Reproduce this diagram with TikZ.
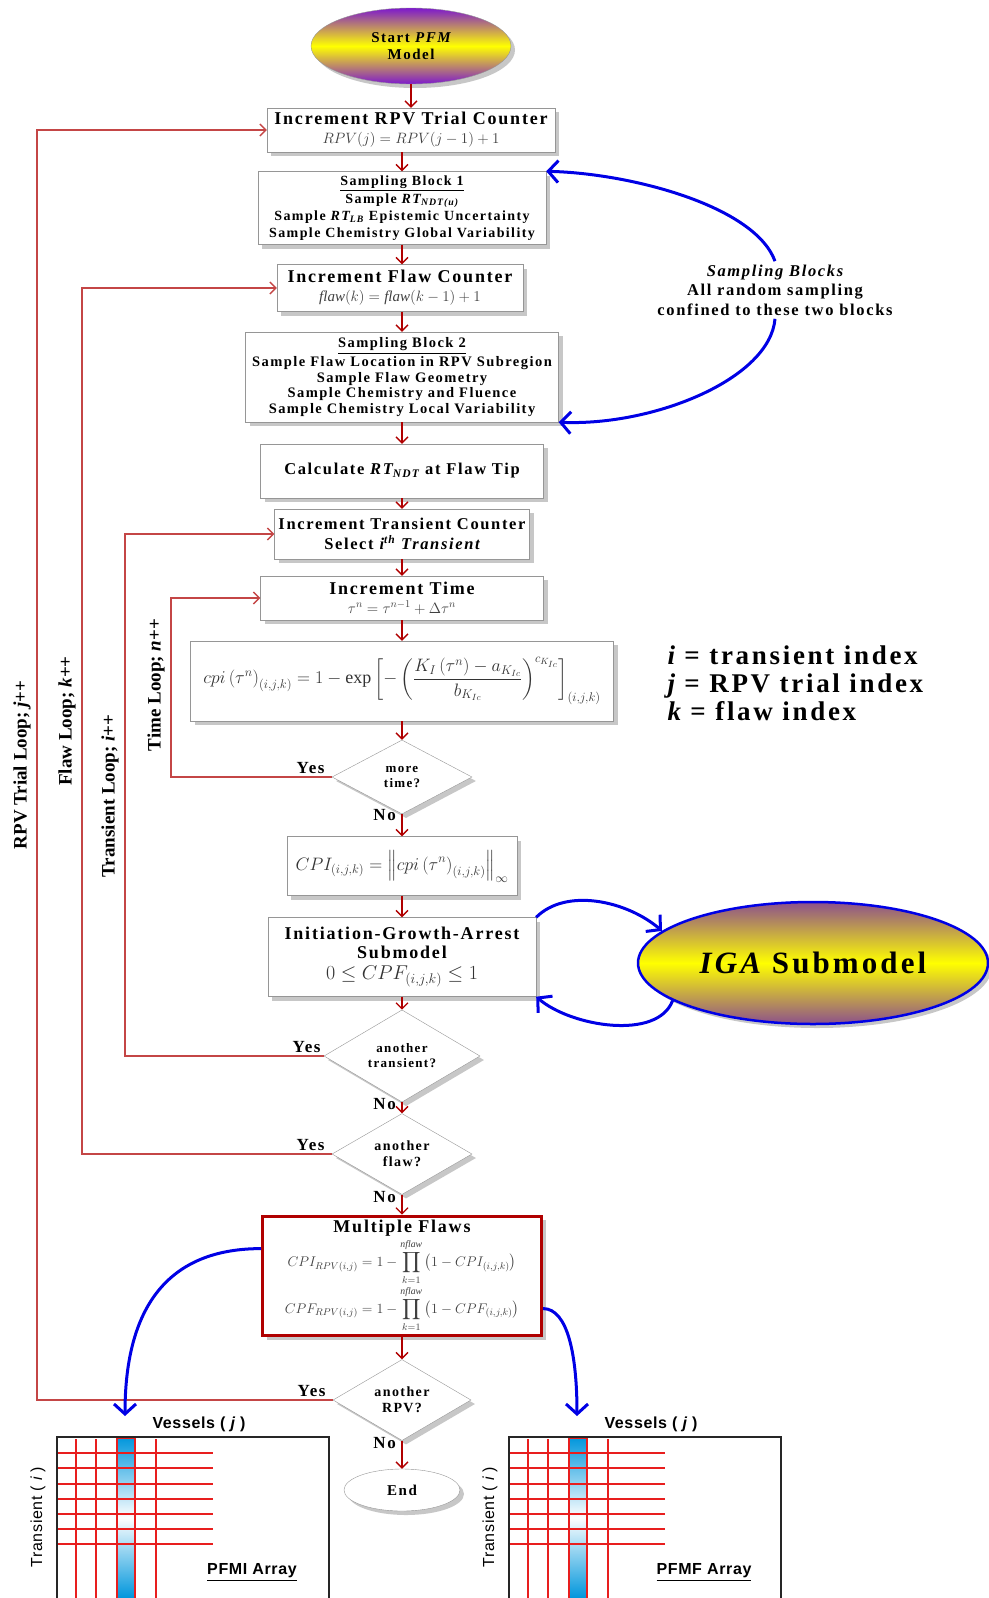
\RequirePackage{fix-cm}
\documentclass[tikz,border=0pt]{standalone}
\usepackage{exscale}
\usepackage{fontspec}
\setmainfont{Liberation Serif}[LetterSpace=10]
\setsansfont{Liberation Sans}[LetterSpace=4]
\newfontfamily\loopfont{Liberation Serif}
\usetikzlibrary{shapes.geometric,arrows.meta,shadows,positioning}

\definecolor{flowred}{RGB}{176,0,0}
\definecolor{loopred}{RGB}{196,70,70}
\definecolor{gridred}{RGB}{232,30,30}
\definecolor{cellblue}{RGB}{0,150,220}
\definecolor{startpurple}{RGB}{125,25,205}
\definecolor{igamauve}{RGB}{140,80,140}
\definecolor{boxgray}{RGB}{150,150,150}

\newcommand{\titlefont}{\fontsize{18}{19}\selectfont\bfseries}
\newcommand{\listfont}{\fontsize{14.5}{15.5}\selectfont\bfseries}
\newcommand{\eqfont}{\fontsize{15}{18}\selectfont\color{black!75}}
\newcommand{\askfont}{\fontsize{13}{15}\selectfont\bfseries}

\tikzset{
  grayshadow/.style={drop shadow={fill=black!22,opacity=1,shadow xshift=4pt,shadow yshift=-4pt}},
  block/.style={draw=boxgray, fill=white, grayshadow, align=center, inner sep=2pt, font=\titlefont},
  decision/.style={diamond, draw=boxgray, fill=white, grayshadow, align=center, inner sep=0pt, font=\askfont},
  flow/.style={draw=flowred, line width=1.2pt, -{Straight Barb[length=6pt,width=12pt,line width=1.3pt]}},
  loopline/.style={draw=loopred, line width=1.2pt, -{Straight Barb[length=6pt,width=12pt,line width=1.3pt]}},
  bluearc/.style={draw=blue!90!black, line width=3pt, -{Straight Barb[length=10pt,width=22pt,line width=3pt]}},
  answer/.style={font=\fontsize{17}{17}\selectfont\bfseries, inner sep=1pt},
  looplabel/.style={rotate=90, font=\loopfont\fontsize{19}{19}\selectfont\bfseries},
}

\begin{document}
\begin{tikzpicture}[x=1pt,y=-1pt]
\useasboundingbox (0,0) rectangle (988,1598);

% main flow
\node[ellipse, draw=boxgray, grayshadow, top color=startpurple, bottom color=startpurple, middle color=yellow,
      minimum width=200, minimum height=76, align=center, font=\fontsize{15}{17}\selectfont\bfseries] (start) at (411,46) {Start {\itshape PFM}\\Model};
\node[block, minimum width=288, minimum height=44] (rpv) at (411,130) {Increment RPV Trial Counter\\{\eqfont $RPV(j)=RPV(j-1)+1$}};
\node[block, minimum width=288, minimum height=73, font=\fontsize{14}{17}\selectfont\bfseries] (samp1) at (402,208) {\underline{Sampling Block 1}\\[1pt]Sample {\itshape RT\textsubscript{NDT(u)}}\\Sample {\itshape RT\textsubscript{LB}} Epistemic Uncertainty\\Sample Chemistry Global Variability};
\node[block, minimum width=246, minimum height=47] (flaw) at (400,288) {Increment Flaw Counter\\{\eqfont $\mathit{flaw}(k)=\mathit{flaw}(k-1)+1$}};
\node[block, minimum width=313, minimum height=90, font=\listfont] (samp2) at (402,377) {\underline{Sampling Block 2}\\[2pt]Sample Flaw Location in RPV Subregion\\Sample Flaw Geometry\\Sample Chemistry and Fluence\\Sample Chemistry Local Variability};
\node[block, minimum width=283, minimum height=54, font=\fontsize{16.5}{18}\selectfont\bfseries] (rtndt) at (402,471) {Calculate {\itshape RT\textsubscript{NDT}} at Flaw Tip};
\node[block, minimum width=255, minimum height=50, font=\fontsize{16.5}{20}\selectfont\bfseries] (trans) at (402,534) {Increment Transient Counter\\Select {\itshape i}\textsuperscript{\itshape th} {\itshape Transient}};
\node[block, minimum width=283, minimum height=44] (time) at (402,598) {Increment Time\\{\eqfont $\tau^n=\tau^{n-1}+\Delta\tau^n$}};
\node[block, minimum width=423, minimum height=80, font=\fontsize{18}{20}\selectfont\color{black!80}] (cpi) at (402,681) {$\displaystyle cpi\left(\tau^n\right)_{(i,j,k)}=1-\exp\left[-\left(\frac{K_I\left(\tau^n\right)-a_{K_{Ic}}}{b_{K_{Ic}}}\right)^{c_{K_{Ic}}}\right]_{(i,j,k)}$};
\node[decision, minimum width=140, minimum height=74] (moretime) at (402,777) {more\\time?};
\node[block, minimum width=230, minimum height=59, font=\fontsize{18}{20}\selectfont\color{black!80}] (cpimax) at (402,866) {$\displaystyle CPI_{(i,j,k)}=\Bigl\|cpi\left(\tau^n\right)_{(i,j,k)}\Bigr\|_\infty$};
\node[block, minimum width=268, minimum height=79] (iga) at (402,957) {Initiation-Growth-Arrest\\Submodel\\[2pt]{\fontsize{20}{21}\selectfont\mdseries\color{black!80}$0\le CPF_{(i,j,k)}\le 1$}};
\node[decision, minimum width=156, minimum height=70] (anotrans) at (402,1056) {another\\transient?};
\node[decision, minimum width=140, minimum height=72, font=\fontsize{14}{16}\selectfont\bfseries] (anoflaw) at (402,1154) {another\\flaw?};
\node[block, draw=flowred, line width=3pt, minimum width=279, minimum height=116, inner sep=4pt] (multi) at (402,1276) {Multiple Flaws\\[2pt]{\fontsize{14}{14}\selectfont\color{black!75}$\displaystyle CPI_{RPV(i,j)}=1-\prod_{k=1}^{\mathit{nflaw}}\left(1-CPI_{(i,j,k)}\right)$}\\[0pt]{\fontsize{14}{14}\selectfont\color{black!75}$\displaystyle CPF_{RPV(i,j)}=1-\prod_{k=1}^{\mathit{nflaw}}\left(1-CPF_{(i,j,k)}\right)$}};
\node[decision, minimum width=138, minimum height=72, font=\fontsize{14}{16}\selectfont\bfseries] (anorpv) at (402,1400) {another\\RPV?};
\node[ellipse, draw=boxgray, fill=white, grayshadow, minimum width=116, minimum height=42, font=\fontsize{15}{17}\selectfont\bfseries] (end) at (402,1490) {End};

\draw[flow] (start) -- (rpv);
\draw[flow] (samp1.north |- rpv.south) -- (samp1.north);
\draw[flow] (samp1.south) -- (samp1.south |- flaw.north);
\draw[flow] (samp2.north |- flaw.south) -- (samp2.north);
\draw[flow] (samp2) -- (rtndt);
\draw[flow] (rtndt) -- (trans);
\draw[flow] (trans) -- (time);
\draw[flow] (time) -- (cpi);
\draw[flow] (cpi) -- (moretime);
\draw[flow] (moretime) -- (cpimax);
\draw[flow] (cpimax) -- (iga);
\draw[flow] (iga) -- (anotrans);
\draw[flow] (anotrans) -- (anoflaw);
\draw[flow] (anoflaw) -- (multi);
\draw[flow] (multi) -- (anorpv);
\draw[flow] (anorpv) -- (end);

% loops
\coordinate (railR) at (37,0);
\coordinate (railF) at (82,0);
\coordinate (railT) at (125,0);
\coordinate (railN) at (171,0);
\draw[loopline] (anorpv.west) -- (anorpv.west -| railR) |- (rpv.west);
\draw[loopline] (anoflaw.west) -- (anoflaw.west -| railF) |- (flaw.west);
\draw[loopline] (anotrans.west) -- (anotrans.west -| railT) |- (trans.west);
\draw[loopline] (moretime.west) -- (moretime.west -| railN) |- (time.west);
\node[looplabel] (lblR) at (22,765) {RPV Trial Loop; {\itshape j}++};
\node[looplabel] (lblF) at (67,721) {Flaw Loop; {\itshape k}++};
\node[looplabel] (lblT) at (110,796) {Transient Loop; {\itshape i}++};
\node[looplabel] (lblN) at (156,685) {Time Loop; {\itshape n}++};

% yes / no
\node[answer, anchor=south east, xshift=-6pt, yshift=2pt] (yesN) at (moretime.west) {Yes};
\node[answer, anchor=north east, xshift=-5pt, yshift=6pt] (noN) at (moretime.south) {No};
\node[answer, anchor=south east, xshift=-2pt, yshift=2pt] (yesT) at (anotrans.west) {Yes};
\node[answer, anchor=north east, xshift=-5pt, yshift=5pt] (noT) at (anotrans.south) {No};
\node[answer, anchor=south east, xshift=-6pt, yshift=2pt] (yesF) at (anoflaw.west) {Yes};
\node[answer, anchor=north east, xshift=-5pt, yshift=5pt] (noF) at (anoflaw.south) {No};
\node[answer, anchor=south east, xshift=-6pt, yshift=2pt] (yesR) at (anorpv.west) {Yes};
\node[answer, anchor=north east, xshift=-5pt, yshift=5pt] (noR) at (anorpv.south) {No};

% sampling note
\node[align=center, font=\fontsize{16.5}{19.5}\selectfont\bfseries] (sbnote) at (775,290) {{\itshape Sampling Blocks}\\All random sampling\\confined to these two blocks};
\draw[bluearc] (sbnote.north) .. controls +(-20,-55) and +(85,2) .. (samp1.north east);
\draw[bluearc] (sbnote.south) .. controls +(-5,60) and +(95,4) .. (samp2.south east);

% index legend
\node[anchor=west, align=left, font=\fontsize{27}{28}\selectfont\bfseries] (legend) at (664,683) {{\itshape i} = transient index\\{\itshape j} = RPV trial index\\{\itshape k} = flaw index};

% IGA submodel
\node[ellipse, draw=blue!90!black, line width=2.5pt, grayshadow, shading angle=35, top color=igamauve, bottom color=igamauve, middle color=yellow,
      minimum width=350, minimum height=122, font=\fontsize{31}{31}\selectfont\bfseries] (igasub) at (813,963) {{\itshape IGA} Submodel};
\draw[bluearc] (iga.north east) .. controls +(30,-30) and +(-35,-30) .. (igasub.168);
\draw[bluearc] (igasub.195) .. controls +(-15,40) and +(35,30) .. (iga.south east);

% result arrays
\coordinate (pfmitop) at (125,1416);
\coordinate (pfmftop) at (577,1416);
\draw[bluearc] (multi.169) .. controls +(-100,0) and +(0,-100) .. (pfmitop);
\draw[bluearc] (multi.347) .. controls +(25,0) and +(0,-60) .. (pfmftop);

\foreach \ox/\nm in {57/PFMI,509/PFMF}{
  \shade[top color=cellblue, bottom color=cellblue, middle color=white] (\ox+60,1437) rectangle (\ox+78,1598);
  \foreach \gy in {1453,1468,1484,1499,1514,1529,1544}
    \draw[gridred, line width=1.5pt] (\ox,\gy) -- (\ox+156,\gy);
  \foreach \gx in {19,39,99}
    \draw[gridred, line width=1.8pt] (\ox+\gx,1439) -- (\ox+\gx,1598);
  \draw[gridred, line width=2.2pt] (\ox+60,1600) |- (\ox+78,1438) -- (\ox+78,1600);
  \draw[black!85, line width=2pt] (\ox,1600) |- (\ox+272,1437) -- (\ox+272,1600);
  \node[font=\sffamily\bfseries\fontsize{16}{16}\selectfont] (ves\nm) at (\ox+142,1424) {Vessels ( {\itshape j} )};
  \node[rotate=90, font=\sffamily\fontsize{16}{16}\selectfont] (tra\nm) at (\ox-19,1517) {Transient ( {\itshape i} )};
  \node[font=\sffamily\bfseries\fontsize{16}{16}\selectfont] (arr\nm) at (\ox+195,1572) {\underline{\nm\ Array}};
}
\end{tikzpicture}
\end{document}
